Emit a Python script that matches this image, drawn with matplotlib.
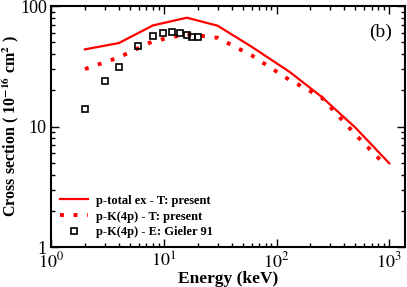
import matplotlib.pyplot as plt

plt.rcParams['font.family'] = ['Liberation Serif', 'DejaVu Serif']
plt.rcParams['mathtext.fontset'] = 'stix'

# p-total ex - T: present
e_total = [2, 4, 8, 16, 30, 60, 130, 250, 500, 1000]
s_total = [43.7, 49.3, 69, 80, 68.7, 46, 28.5, 17.7, 9.8, 4.95]

# p-K(4p) - T: present
e_k4p = [2, 4, 8, 16, 30, 60, 125, 250, 500, 900]
s_k4p = [30, 37.5, 51, 58.5, 54.5, 39, 25, 17.5, 8.6, 4.9]

# p-K(4p) - E: Gieler 91
e_exp = [2.0, 3.0, 4.0, 5.95, 8.0, 9.9, 11.9, 14.0, 16.0, 17.9, 20.0]
s_exp = [14.0, 23.9, 31.4, 46.6, 56.0, 59.7, 60.5, 59.7, 57.5, 55.3, 55.6]

fig = plt.figure(figsize=(4.07, 2.87), dpi=100)
ax = fig.add_axes([0.1253, 0.139, 0.87, 0.84])

ax.plot(e_total, s_total, color='red', lw=1.6, label='p-total ex - T: present')
ax.plot(e_k4p, s_k4p, color='red', lw=2.8, ls=(0, (1, 2.5)),
        label='p-K(4p) - T: present')
ax.plot(e_exp, s_exp, ls='none', marker='s', ms=5, mfc='none', mec='black',
        mew=1.2, label='p-K(4p) - E: Gieler 91')

ax.set_xscale('log')
ax.set_yscale('log')
ax.set_xlim(1, 1380)
ax.set_ylim(1, 100)
ax.set_yticks([1, 10, 100])
ax.set_yticklabels(['1', '10', '100'])
ax.set_xticks([1, 10, 100, 1000])
ax.set_xticklabels([r'$10^0$', r'$10^1$', r'$10^2$', r'$10^3$'])

ax.tick_params(which='both', direction='in', top=True, right=True,
               labelsize=13, width=1.0)
ax.tick_params(which='major', length=6, pad=3)
ax.tick_params(which='minor', length=3)
for sp in ax.spines.values():
    sp.set_linewidth(1.5)

ax.set_xlabel('Energy (keV)', fontsize=12.5, fontweight='bold', labelpad=0)
ax.set_ylabel(r'Cross section ( 10$^{\mathbf{-16}}$ cm$^{\mathbf{2}}$ )',
              fontsize=11.5, fontweight='bold')
ax.yaxis.set_label_coords(-0.085, 0.5)

ax.text(0.93, 0.89, '(b)', transform=ax.transAxes, fontsize=14,
        ha='center', va='center')

ax.legend(loc='lower left', frameon=False,
          prop={'weight': 'bold', 'size': 9}, handlelength=2.3,
          borderaxespad=0.3, labelspacing=0.3, handletextpad=0.6,
          bbox_to_anchor=(0.0, 0.0))

fig.savefig('out.png', dpi=100)
